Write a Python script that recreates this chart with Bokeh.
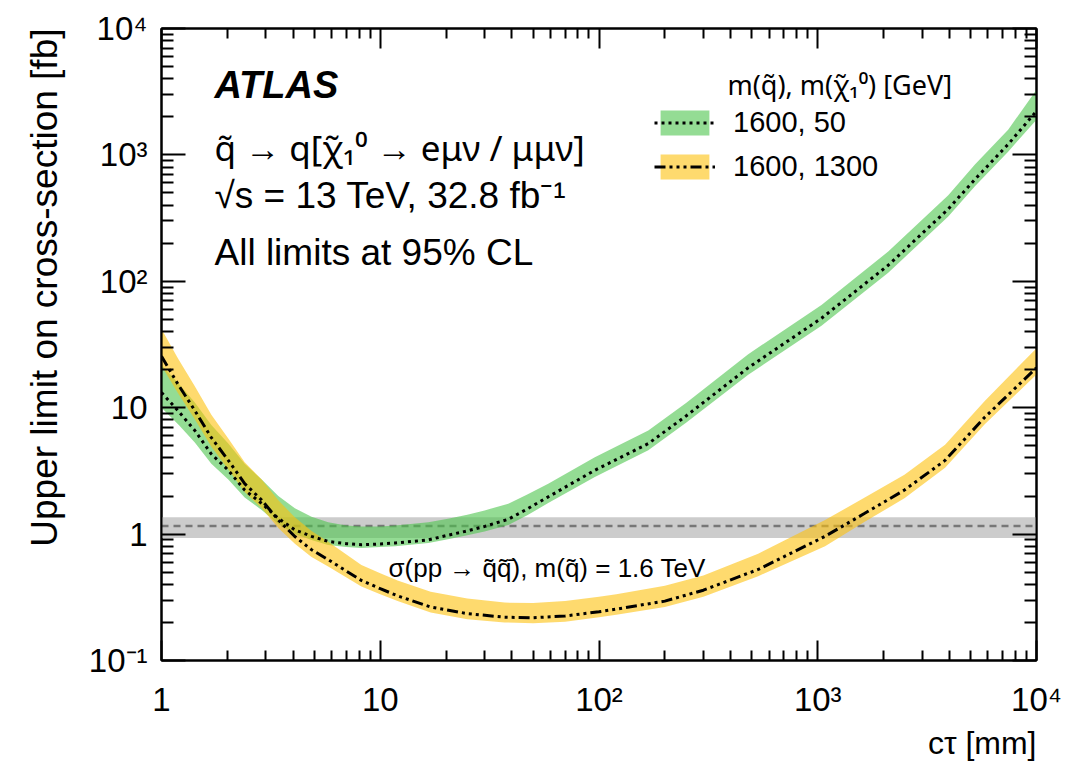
import math
from bokeh.plotting import figure
from bokeh.models import (FixedTicker, CustomJSTickFormatter, LogAxis, Label, Legend,
                          LegendItem, BoxAnnotation, Span, Title)
from bokeh.embed import file_html
from bokeh.resources import INLINE

# ---------------- data ----------------
green_ct = [1, 1.2, 1.42, 1.69, 2.02, 2.4, 2.87, 3.42, 4.07, 4.85, 5.78, 7, 8.2, 10, 11.7,
            16.6, 20.4, 25, 30, 38.5, 47, 58.6, 95.7, 168, 250, 481, 1040, 2100, 3950, 5230, 7420, 10000]
green_limit = [13.2, 9.3, 6.6, 4.3, 3.2, 2.23, 1.75, 1.33, 1.08, 0.96, 0.875, 0.84, 0.825, 0.835, 0.85,
               0.90, 0.98, 1.06, 1.15, 1.31, 1.58, 1.97, 3.2, 5.2, 8.6, 20.7, 51, 134, 373, 640, 1213, 2220]
green_low = [10.0, 7.3, 5.3, 3.6, 2.7, 1.95, 1.55, 1.2, 1.0, 0.9, 0.82, 0.79, 0.775, 0.79, 0.80,
             0.85, 0.91, 0.98, 1.05, 1.18, 1.41, 1.76, 2.83, 4.6, 7.6, 18.2, 44.5, 117, 325, 565, 1060, 1900]
green_high = [21.8, 15.5, 11.0, 7.3, 5.2, 3.6, 2.7, 2.0, 1.6, 1.37, 1.24, 1.17, 1.15, 1.15, 1.17,
              1.24, 1.32, 1.42, 1.54, 1.74, 2.06, 2.5, 4.06, 6.6, 10.9, 26.5, 65, 172, 480, 840, 1580, 3280]

yellow_ct = [1, 1.19, 1.42, 1.69, 2.02, 2.4, 2.87, 3.42, 4.07, 4.85, 5.78, 8.2, 10, 12, 17, 25, 37,
             50, 70, 100, 120, 200, 300, 534, 1080, 1640, 2490, 3820, 5800, 10000]
yellow_limit = [25.5, 15.3, 9.5, 5.8, 3.83, 2.51, 1.86, 1.29, 0.957, 0.753, 0.628, 0.43, 0.37, 0.325,
                0.265, 0.235, 0.22, 0.218, 0.225, 0.243, 0.255, 0.295, 0.36, 0.525, 0.96, 1.46, 2.23,
                3.83, 8.4, 20.7]
yellow_low = [21.5, 13.0, 8.1, 4.9, 3.25, 2.15, 1.6, 1.12, 0.84, 0.66, 0.555, 0.385, 0.335, 0.295,
              0.24, 0.212, 0.2, 0.197, 0.203, 0.22, 0.23, 0.265, 0.32, 0.465, 0.80, 1.25, 1.92,
              3.35, 7.4, 18.3]
yellow_high = [42, 24.5, 14.8, 8.8, 5.7, 3.7, 2.7, 1.85, 1.36, 1.06, 0.87, 0.57, 0.49, 0.43, 0.35,
               0.31, 0.287, 0.285, 0.295, 0.32, 0.335, 0.39, 0.47, 0.70, 1.29, 1.95, 2.95, 5.1,
               11.3, 29.6]

xsec_nominal = 1.16
xsec_low = 0.93
xsec_high = 1.36

x_major = [1, 10, 100, 1000, 10000]
x_labels = ["1", "10", "10\u00b2", "10\u00b3", "10\u2074"]
y_major = [0.1, 1, 10, 100, 1000, 10000]
y_labels = ["10\u207b\u00b9", "1", "10", "10\u00b2", "10\u00b3", "10\u2074"]

legend_labels = ["1600, 50", "1600, 1300"]
legend_title = "m(q\u0303), m(\u03c7\u0303\u2081\u2070) [GeV]"

FONT = "Liberation Sans"
FONT2 = "Noto Sans"

# ---------------- figure ----------------
W, H = 1084, 762
p = figure(width=W, height=H, x_axis_type="log", y_axis_type="log",
           x_range=(1, 1e4), y_range=(0.1, 1e4),
           output_backend="svg", toolbar_location=None,
           min_border_left=160, min_border_right=W - 1036, min_border_top=28,
           min_border_bottom=H - 665)
p.grid.visible = False
p.outline_line_color = "black"
p.outline_line_width = 2
p.background_fill_color = "white"

x_minor = [m * 10 ** e for e in range(0, 4) for m in range(2, 10)]
y_minor = [m * 10 ** e for e in range(-1, 4) for m in range(2, 10)]

fmt_code = """
let best = 0, bd = 1e9;
for (let i = 0; i < majors.length; i++) {
  const d = Math.abs(Math.log10(majors[i]) - Math.log10(tick));
  if (d < bd) { bd = d; best = i; }
}
return labs[best];
"""
blank_code = "return '';"


def style_axis(ax, major, minor, tin, tmin):
    ax.ticker = FixedTicker(ticks=major, minor_ticks=minor)
    ax.major_tick_in = tin
    ax.major_tick_out = 0
    ax.minor_tick_in = tmin
    ax.minor_tick_out = 0
    ax.axis_line_width = 2
    ax.major_tick_line_width = 2
    ax.minor_tick_line_width = 2
    ax.axis_line_color = "black"
    ax.major_tick_line_color = "black"
    ax.minor_tick_line_color = "black"
    ax.major_label_text_font = FONT
    ax.major_label_text_font_size = "33px"
    ax.major_label_text_color = "black"


xa = p.xaxis[0]
style_axis(xa, x_major, x_minor, 20, 10)
xa.formatter = CustomJSTickFormatter(args=dict(majors=x_major, labs=x_labels), code=fmt_code)
xa.major_label_standoff = 20

ya = p.yaxis[0]
style_axis(ya, y_major, y_minor, 24, 12)
ya.formatter = CustomJSTickFormatter(args=dict(majors=y_major, labs=y_labels), code=fmt_code)
ya.major_label_standoff = 14

top = LogAxis()
style_axis(top, x_major, x_minor, 20, 10)
top.formatter = CustomJSTickFormatter(code=blank_code)
top.major_label_text_font_size = "1px"
p.add_layout(top, "above")

right = LogAxis()
style_axis(right, y_major, y_minor, 24, 12)
right.formatter = CustomJSTickFormatter(code=blank_code)
right.major_label_text_font_size = "1px"
p.add_layout(right, "right")

# axis titles (right / top aligned, ROOT style)
p.add_layout(Title(text="c\u03c4 [mm]", align="right", text_font=FONT, text_font_size="32px",
                   text_font_style="normal", text_color="black", standoff=4), "below")
p.add_layout(Title(text="Upper limit on cross-section [fb]", align="right", text_font=FONT,
                   text_font_size="37px", text_font_style="normal", text_color="black",
                   standoff=42), "left")

# cross-section band
p.add_layout(BoxAnnotation(bottom=xsec_low, top=xsec_high, fill_color="#cccccc", fill_alpha=1.0,
                           line_alpha=0, level="underlay"))
p.add_layout(Span(location=xsec_nominal, dimension="width", line_color="#777777",
                  line_width=2.5, line_dash="7 5", level="underlay"))

# bands
g_band = p.varea(x=green_ct, y1=green_low, y2=green_high, fill_color=(77, 197, 77), fill_alpha=0.6)
y_band = p.varea(x=yellow_ct, y1=yellow_low, y2=yellow_high, fill_color=(253, 193, 13), fill_alpha=0.6)

g_line = p.line(green_ct, green_limit, line_color="black", line_width=3, line_dash="3 4")
y_line = p.line(yellow_ct, yellow_limit, line_color="black", line_width=3,
                line_dash="11 4 3 4 3 4 3 4")

legend = Legend(items=[LegendItem(label=legend_labels[0], renderers=[g_band, g_line]),
                       LegendItem(label=legend_labels[1], renderers=[y_band, y_line])],
                location=(493, 477), glyph_width=61, glyph_height=31, label_standoff=18,
                spacing=11, padding=0, margin=0, border_line_alpha=0, background_fill_alpha=0,
                label_text_font=FONT, label_text_font_size="29px", label_text_color="black",
                label_height=31)
p.add_layout(legend, "center")


def lab(text, x, y, size, style="normal", align="left", font=FONT):
    p.add_layout(Label(x=x, y=y, x_units="screen", y_units="screen", text=text,
                       text_font=font, text_font_size=size, text_font_style=style,
                       text_align=align, text_baseline="alphabetic",
                       text_color="black"))


lab(legend_title, 566, 576, "27px", font=FONT2)
lab("ATLAS", 53, 576, "38px", style="bold italic")
lab("q\u0303 \u2192 q[\u03c7\u0303\u2081\u2070 \u2192 e\u03bc\u03bd / \u03bc\u03bc\u03bd]", 53, 513, "35px",
    font=FONT2)
lab("\u221as = 13 TeV, 32.8 fb\u207b\u00b9", 53, 465, "37px")
lab("All limits at 95% CL", 53, 408, "37px")
lab("\u03c3(pp \u2192 q\u0303q\u0303\u0304), m(q\u0303) = 1.6 TeV", 227, 93, "26px")

open("out.html", "w").write(file_html(p, INLINE))
